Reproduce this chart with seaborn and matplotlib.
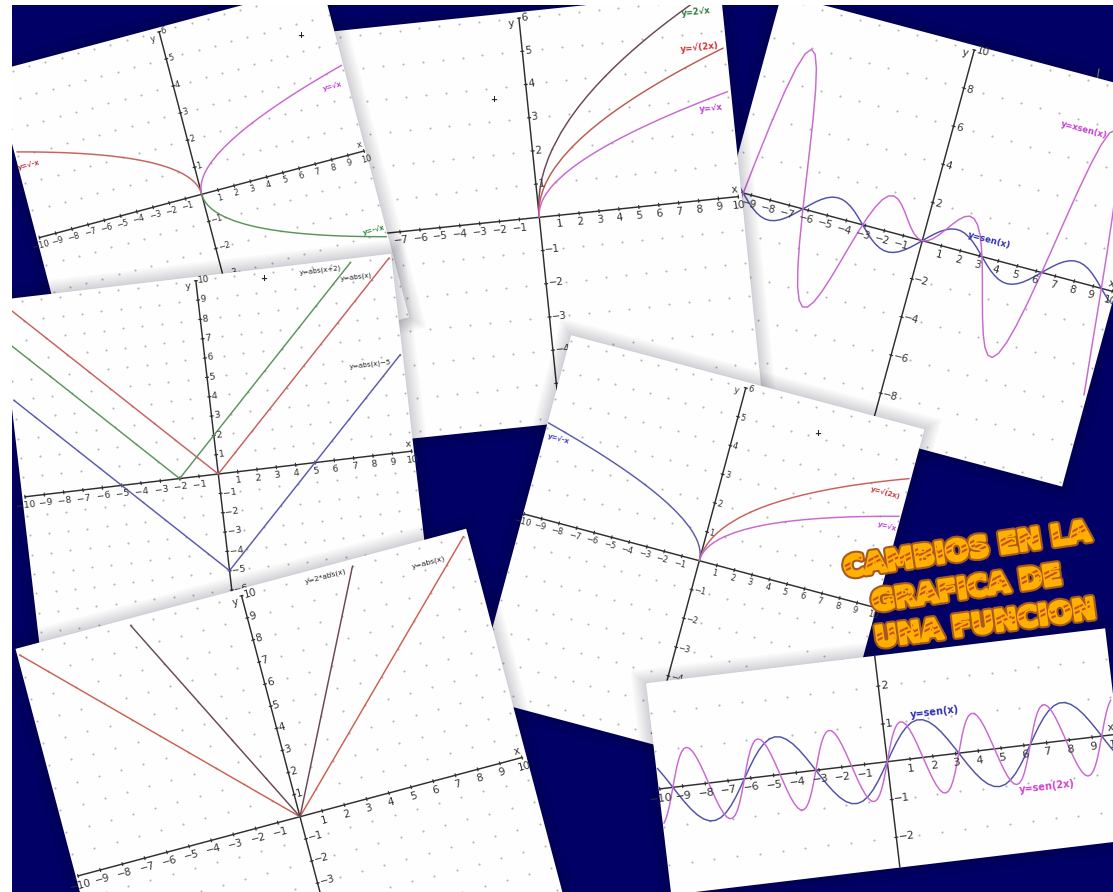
import numpy as np
import matplotlib
matplotlib.use("Agg")
import matplotlib.pyplot as plt
import matplotlib.patheffects as pe
from matplotlib.patches import Polygon, PathPatch, Rectangle
from matplotlib.textpath import TextPath
from matplotlib.font_manager import FontProperties
from matplotlib.transforms import Affine2D
import seaborn as sns

# ---------- data ----------
root_x = [0, .01, .05, .1, .2, .35, .5, .75, 1, 1.5, 2, 2.5, 3, 3.5, 4, 4.5, 5, 5.5, 6, 6.5, 7, 7.5, 8, 8.5, 9, 9.5, 10]
root_neg_x = [-v for v in root_x]
root_1 = [0, .1, .224, .316, .447, .592, .707, .866, 1, 1.225, 1.414, 1.581, 1.732, 1.871, 2, 2.121, 2.236, 2.345, 2.449, 2.55, 2.646, 2.739, 2.828, 2.915, 3, 3.082, 3.162]
root_neg = [-v for v in root_1]
root_2x = [0, .141, .316, .447, .632, .837, 1, 1.225, 1.414, 1.732, 2, 2.236, 2.449, 2.646, 2.828, 3, 3.162, 3.317, 3.464, 3.606, 3.742, 3.873, 4, 4.123, 4.243, 4.359, 4.472]
root_dbl = [0, .2, .447, .632, .894, 1.183, 1.414, 1.732, 2, 2.449, 2.828, 3.162, 3.464, 3.742, 4, 4.243, 4.472, 4.69, 4.899, 5.099, 5.292, 5.477, 5.657, 5.831, 6, 6.164, 6.325]

abs_x = [-10, -5, -2, 0, 5, 8, 10]
abs_1 = [10, 5, 2, 0, 5, 8, 10]
abs_shift_x = [-10, -2, 8]
abs_shift = [8, 0, 10]
abs_down_x = [-10, 0, 10]
abs_down = [5, -5, 5]
abs_dbl_x = [-5, 0, 5]
abs_dbl = [10, 0, 10]

quarter_x = np.arange(-40, 41) / 4
eighth_x = np.arange(-80, 81) / 8
sen_x = [.544, .319, .075, -.174, -.412, -.625, -.798, -.922, -.989, -.995, -.938, -.823, -.657, -.45, -.215, .033, .279, .508, .706, .859, .959, .999, .978, .895, .757, .572, .351, .108, -.141, -.382, -.598, -.778, -.909, -.984, -.997, -.949, -.841, -.682, -.479, -.247,
         0, .247, .479, .682, .841, .949, .997, .984, .909, .778, .598, .382, .141, -.108, -.351, -.572, -.757, -.895, -.978, -.999, -.959, -.859, -.706, -.508, -.279, -.033, .215, .45, .657, .823, .938, .995, .989, .922, .798, .625, .412, .174, -.075, -.319, -.544]
xsen_x = [-5.44, -3.11, -.713, 1.61, 3.709, 5.469, 6.783, 7.606, 7.915, 7.711, 7.035, 5.967, 4.599, 3.038, 1.398, -.207, -1.676, -2.921, -3.882, -4.51, -4.795, -4.745, -4.399, -3.804, -3.027, -2.145, -1.228, -.352, .423, 1.051, 1.496, 1.751, 1.819, 1.722, 1.496, 1.186, .841, .511, .24, .062,
          0, .062, .24, .511, .841, 1.186, 1.496, 1.722, 1.819, 1.751, 1.496, 1.051, .423, -.352, -1.228, -2.145, -3.027, -3.804, -4.399, -4.745, -4.795, -4.51, -3.882, -2.921, -1.676, -.207, 1.398, 3.038, 4.599, 5.967, 7.035, 7.711, 7.915, 7.606, 6.783, 5.469, 3.709, 1.61, -.713, -3.11, -5.44]
sen_2x = [-.913, -.783, -.606, -.39, -.15, .099, .34, .564, .751, .891, .976, 1.0, .961, .863, .712, .516, .288, .042, -.207, -.442, -.65, -.818, -.935, -.994, -.991, -.926, -.804, -.632, -.42, -.183, .066, .311, .537, .728, .875, .968, 1.0, .97, .88, .735,
          .544, .319, .075, -.174, -.412, -.625, -.798, -.922, -.989, -.995, -.938, -.823, -.657, -.45, -.215, .033, .279, .508, .706, .859, .959, .999, .978, .895, .757, .572, .351, .108, -.141, -.382, -.598, -.778, -.909, -.984, -.997, -.949, -.841, -.682, -.479, -.247,
          0, .247, .479, .682, .841, .949, .997, .984, .909, .778, .598, .382, .141, -.108, -.351, -.572, -.757, -.895, -.978, -.999, -.959, -.859, -.706, -.508, -.279, -.033, .215, .45, .657, .823, .938, .995, .989, .922, .798, .625, .412, .174, -.075, -.319, -.544,
          -.735, -.88, -.97, -1.0, -.968, -.875, -.728, -.537, -.311, -.066, .183, .42, .632, .804, .926, .991, .994, .935, .818, .65, .442, .207, -.042, -.288, -.516, -.712, -.863, -.961, -1.0, -.976, -.891, -.751, -.564, -.34, -.099, .15, .39, .606, .783, .913]

title_lines = ["CAMBIOS EN LA", "GRAFICA DE", "UNA FUNCION"]

# ---------- style ----------
NAVY = "#000066"
RED, MAG, GRN, BLU, DRK = "#c8605c", "#c868d0", "#5c945c", "#5a5ab0", "#6a4658"
sns.set_theme(style="white")
plt.rcParams["font.family"] = ["DejaVu Sans"]

fig = plt.figure(figsize=(11.13, 8.92), dpi=100, facecolor=NAVY)
ax = fig.add_axes([0, 0, 1, 1])
ax.set_facecolor(NAVY)
ax.set_axis_off()


def panel(z, origin, u, v, xlim, ylim, x_ticks, y_ticks, y_axis, fs, xoff, dots_dy, curves, labels, plus=None, ylabel=True):
    T = Affine2D.from_values(u[0], u[1], v[0], v[1], origin[0], origin[1]) + ax.transData
    lu, lv = np.hypot(*u), np.hypot(*v)
    ang = -np.degrees(np.arctan2(u[1], u[0]))
    uh, vh = np.array(u) / lu, np.array(v) / lv
    O = np.array(origin)

    def corners(m=0):
        return [(xlim[0] - m / lu, ylim[0] - m / lv), (xlim[1] + m / lu, ylim[0] - m / lv),
                (xlim[1] + m / lu, ylim[1] + m / lv), (xlim[0] - m / lu, ylim[1] + m / lv)]

    for m in (14, 12, 10, 8, 6, 4, 2, 1):
        ax.add_patch(Polygon(corners(m), closed=True, transform=T, fc="#000020", ec="none", alpha=.022, zorder=z))
    paper = Polygon(corners(), closed=True, transform=T, fc="#fefefe", ec="none", zorder=z + 1)
    ax.add_patch(paper)

    gx, gy = np.meshgrid(np.arange(np.ceil(xlim[0]), xlim[1] + .01),
                         np.arange(np.ceil(ylim[0] / dots_dy) * dots_dy, ylim[1] + .01, dots_dy))
    sns.scatterplot(x=gx.ravel(), y=gy.ravel(), s=2.2, color="#b4b4b4", linewidth=0, transform=T,
                    ax=ax, zorder=z + 2, legend=False)
    ax.collections[-1].set_clip_path(paper)

    axis_kw = dict(color="#2e2e2e", transform=T, zorder=z + 3)
    x0, x1 = x_ticks[0], x_ticks[-1]
    ln, = ax.plot([x0, x1], [0, 0], lw=1.05, **axis_kw)
    ln.set_clip_path(paper)
    ln, = ax.plot([0, 0], list(y_axis), lw=1.05, **axis_kw)
    ln.set_clip_path(paper)
    for t in x_ticks:
        if t == 0:
            continue
        ln, = ax.plot([t, t], [-1.6 / lv, 1.6 / lv], lw=.8, **axis_kw)
        ln.set_clip_path(paper)
        p = O + t * np.array(u) - vh * xoff
        tx = ax.text(p[0], p[1], str(t).replace("-", "\u2212"), fontsize=fs, color="#333333", rotation=ang,
                     rotation_mode="anchor", ha="center", va="center", zorder=z + 5)
        tx.set_clip_path(paper)
    for t in y_ticks:
        if t == 0:
            continue
        ln, = ax.plot([-1.6 / lu, 1.6 / lu], [t, t], lw=.8, **axis_kw)
        ln.set_clip_path(paper)
        p = O + t * np.array(v) + uh * 2.2
        tx = ax.text(p[0], p[1], str(t).replace("-", "\u2212"), fontsize=fs, color="#333333", rotation=ang,
                     rotation_mode="anchor", ha="left", va="center", zorder=z + 5)
        tx.set_clip_path(paper)
    px = O + x1 * np.array(u) + vh * 7 - uh * 3
    ax.text(px[0], px[1], "x", fontsize=fs, color="#333333", rotation=ang, rotation_mode="anchor",
            ha="center", va="center", zorder=z + 5).set_clip_path(paper)
    if ylabel:
        py = O + y_ticks[-1] * np.array(v) - uh * 8 - vh * 5
        ax.text(py[0], py[1], "y", fontsize=fs, color="#333333", rotation=ang, rotation_mode="anchor",
                ha="center", va="center", zorder=z + 5).set_clip_path(paper)

    for xs, ys, col in curves:
        sns.lineplot(x=list(xs), y=list(ys), color=col, lw=1.05, sort=False, estimator=None,
                     transform=T, ax=ax, zorder=z + 4, legend=False)
        ax.lines[-1].set_clip_path(paper)

    for s, lx, ly, col, size, weight in labels:
        ax.text(lx, ly, s, fontsize=size, color=col, fontweight=weight, rotation=ang, rotation_mode="anchor",
                ha="center", va="center", zorder=z + 5)
    if plus is not None:
        ax.text(plus[0], plus[1], "+", fontsize=6, color="#222222", fontweight="bold", ha="center", va="center",
                zorder=z + 5)


R10 = list(range(-10, 11))
R6 = list(range(-6, 7))

# C: x sen(x)
panel(10, (922.3, 240.7), (19.0, 5.06), (5.2, -19.07), (-10.2, 10.15), (-10.2, 10.23), R10,
      [-8, -6, -4, -2, 2, 4, 6, 8, 10], (-10, 10), 7.5, 9.5, 2,
      [(quarter_x, sen_x, "#5050aa"), (quarter_x, xsen_x, MAG)],
      [("y=xsen(x)", 1084.3, 129.3, "#c040d0", 6, "bold"), ("y=sen(x)", 989.3, 240, "#3030b0", 6.3, "bold")])

# B: roots
panel(20, (539.3, 217.3), (19.9, -2.07), (-3.4, -33.2), (-10.2, 10.17), (-6.2, 6.18), R10, R6, (-6, 6), 7.5, 8.5, 1,
      [(root_x, root_dbl, DRK), (root_x, root_2x, "#bb5a50"), (root_x, root_1, MAG)],
      [("y=2\u221ax", 696, 12.3, "#2a7a3a", 6, "bold"), ("y=\u221a(2x)", 700, 46.7, "#cc3333", 6.3, "bold"),
       ("y=\u221ax", 710.7, 108.3, "#c040d0", 6, "bold")], plus=(494, 100))

# A: reflections
panel(30, (201.7, 194.3), (16.23, -4.33), (-7.1, -27.1), (-10.16, 10.1), (-6.15, 6.15), R10, R6, (-6, 6), 6, 8, 1,
      [(root_neg_x, root_1, RED), (root_x, root_1, MAG), (root_x, root_neg, GRN)],
      [("y=\u221ax", 332.7, 85.7, "#c040d0", 5, "bold"), ("y=\u221a-x", 29, 165, "#cc3333", 5, "bold"),
       ("y=-\u221ax", 374, 230, "#2a8a3a", 5, "bold")], plus=(301, 35))

# D: abs shifted
panel(40, (218.3, 474), (19.33, -2.28), (-2.25, -19.33), (-10.14, 10.12), (-10.2, 10.2), R10, R10, (-10, 10), 6.8, 8.5, 1,
      [(abs_x, abs_1, RED), (abs_shift_x, abs_shift, GRN), (abs_down_x, abs_down, BLU)],
      [("y=abs(x+2)", 320, 270.7, "#222222", 5, "normal"), ("y=abs(x)", 356.7, 276.7, "#222222", 5, "normal"),
       ("y=abs(x)\u22125", 370.7, 364, "#222222", 5, "normal")], plus=(263.3, 278.3))

# F: blue/red/magenta roots
panel(50, (699.3, 560.7), (17.53, 4.67), (7.75, -28.8), (-10.05, 10.1), (-6.35, 6.2), R10, R6, (-6, 6), 6, 8, 1,
      [(root_neg_x, root_1, BLU), (root_x, root_2x, RED), (root_x, root_1, MAG)],
      [("y=\u221a-x", 559, 438.3, "#3838c0", 5, "bold"), ("y=\u221a(2x)", 886, 492.3, "#cc3333", 5, "bold"),
       ("y=\u221ax", 887.7, 525.7, "#c040d0", 5, "bold")], plus=(817.3, 433))

# E: abs scaled
panel(60, (300, 816.7), (22.2, -5.92), (-5.85, -22.1), (-10.1, 10.2), (-10.2, 10.3), R10, R10, (-10, 10), 7.5, 9.5, 1,
      [(abs_x, abs_1, "#cc6050"), (abs_dbl_x, abs_dbl, DRK)],
      [("y=2*abs(x)", 326, 576.7, "#222222", 5.4, "normal"), ("y=abs(x)", 428.4, 562.7, "#222222", 5.4, "normal")])

# G: sen
panel(70, (887.3, 761.7), (22.75, -2.72), (-4.5, -37.8), (-10.05, 10.13), (-2.8, 2.8), R10, [-2, -1, 1, 2], (-2.8, 2.8), 8, 9.5, 1,
      [(quarter_x, sen_x, "#5050aa"), (eighth_x, sen_2x, MAG)],
      [("y=sen(x)", 935, 712.3, "#3030b0", 7, "bold"), ("y=sen(2x)", 1046.7, 786.7, "#d040d0", 7, "bold")], ylabel=False)

# small green remnant on the navy at the top right
ax.plot([1097.5, 1099], [78, 69], color="#5f8f6f", lw=.9, zorder=9)

# ---------- title ----------
title_fs = 20.3
k = 100 / 72
fp = FontProperties(family="DejaVu Sans", weight="bold")
for s, (bx, by), ang in zip(title_lines, [(845, 577), (873, 611), (876, 647)], [8.5, 8.2, 7.6]):
    ax.text(bx, by, s, fontsize=title_fs, fontweight="bold", color="#ffb000", rotation=ang, rotation_mode="anchor",
            ha="left", va="baseline", zorder=100,
            path_effects=[pe.withStroke(linewidth=5.2, foreground="#a85a1e"),
                          pe.withStroke(linewidth=2.2, foreground="#ffb000")])
    tp = TextPath((0, 0), s, size=title_fs, prop=fp)
    tr = Affine2D().scale(k, -k).rotate_deg(-ang).translate(bx, by)
    clip = PathPatch(tp, transform=tr + ax.transData, fc="none", ec="none", zorder=100)
    ax.add_patch(clip)
    w = tp.get_extents().width * k
    h = title_fs * k * .73
    adv = w / len(s)
    for i in range(len(s)):
        for f0, f1 in ((.28, .60), (.50, .82)):
            ln, = ax.plot([i * adv, (i + 1) * adv], [-f0 * h, -f1 * h],
                          transform=Affine2D().rotate_deg(-ang).translate(bx, by) + ax.transData,
                          color="#c8501e", lw=1.5, zorder=101, solid_capstyle="butt")
            ln.set_clip_path(clip)

# white strips of the picture's margin
ax.add_patch(Rectangle((0, 0), 12, 892, fc="white", ec="none", zorder=500))
ax.add_patch(Rectangle((0, 0), 1113, 5, fc="white", ec="none", zorder=500))

ax.set_xlim(0, 1113)
ax.set_ylim(892, 0)
fig.savefig("out.png", dpi=100, facecolor=NAVY)
